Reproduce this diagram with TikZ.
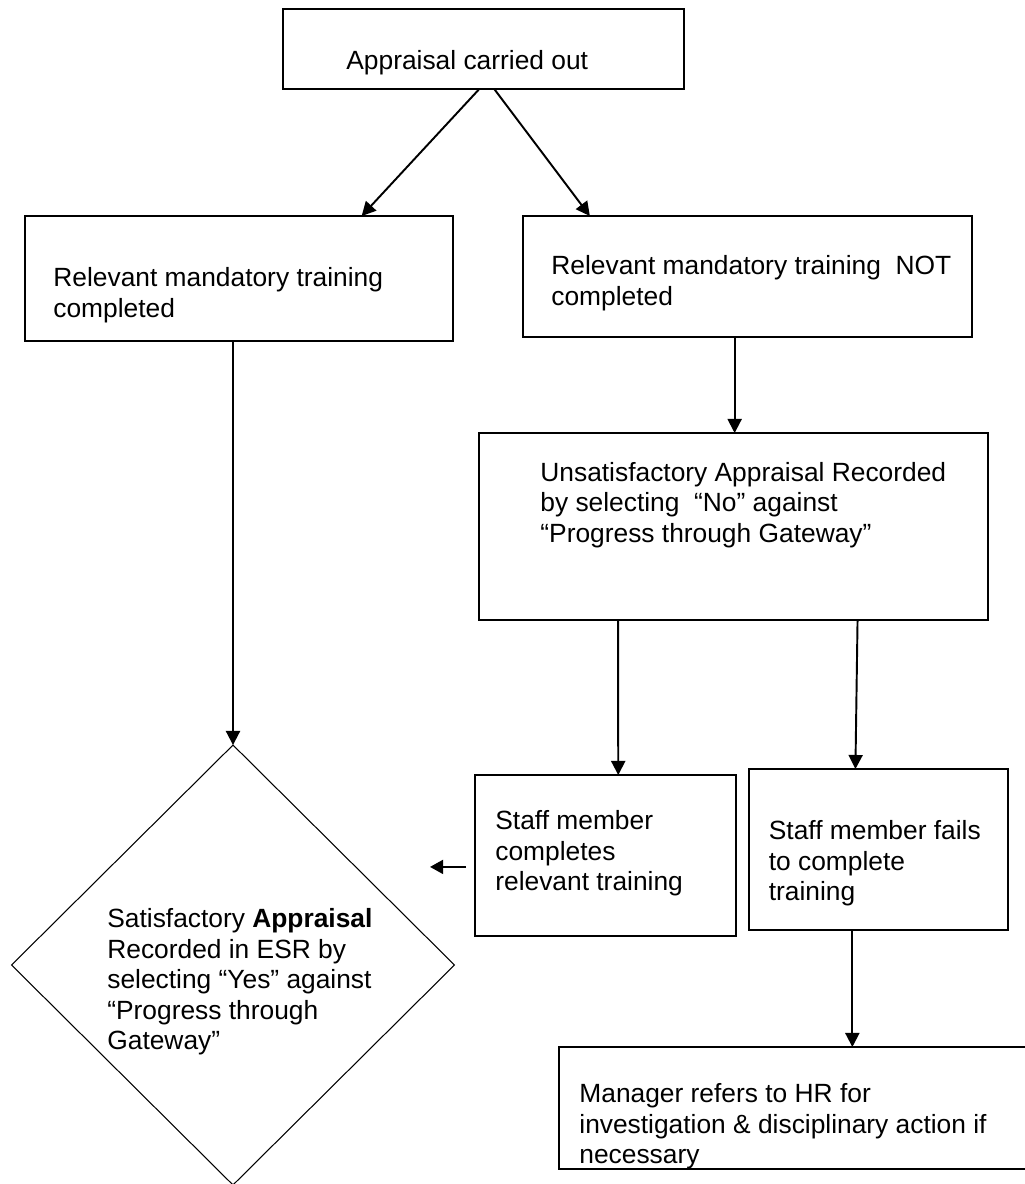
\documentclass[tikz,border=0pt]{standalone}
\usepackage{fontspec}
\setmainfont{Liberation Sans}
\usetikzlibrary{shapes.geometric,arrows.meta}

\begin{document}
\begin{tikzpicture}[x=0.02cm,y=-0.02cm,
  box/.style={draw,line width=0.8pt,inner sep=0pt,outer sep=0pt,rectangle},
  txt/.style={anchor=north west,inner sep=0pt,align=left,font=\fontsize{15}{17.3}\selectfont},
  arr/.style={line width=1.1pt,-{Triangle[length=8pt,width=8pt]}},
  arrs/.style={line width=1.2pt,-{Triangle[length=7.5pt,width=8pt]}}]
\useasboundingbox (0,0) rectangle (1025,1184);
\clip (0,0) rectangle (1025,1184);

\draw (483.5,49) node[box,minimum width=8.02cm,minimum height=1.6cm] (appr) {};
\draw ([shift={(63,41.5)}]appr.north west) node[txt] (appr-t) {Appraisal carried out};

\draw (239,278.5) node[box,minimum width=8.56cm,minimum height=2.5cm] (done) {};
\draw ([shift={(28,51.5)}]done.north west) node[txt] (done-t) {Relevant mandatory training\\completed};

\draw (747.5,276.5) node[box,minimum width=8.98cm,minimum height=2.42cm] (notdone) {};
\draw ([shift={(28,39.5)}]notdone.north west) node[txt] (notdone-t) {Relevant mandatory training~ NOT\\completed};

\draw (733.5,526.5) node[box,minimum width=10.18cm,minimum height=3.74cm] (unsat) {};
\draw ([shift={(61,29)}]unsat.north west) node[txt] (unsat-t) {Unsatisfactory Appraisal Recorded\\by selecting~ “No” against\\“Progress through Gateway”};

\draw (605.5,855.5) node[box,minimum width=5.22cm,minimum height=3.22cm] (completes) {};
\draw ([shift={(20,35.5)}]completes.north west) node[txt] (completes-t) {Staff member\\completes\\relevant training};

\draw (878.5,849.5) node[box,minimum width=5.18cm,minimum height=3.22cm] (fails) {};
\draw ([shift={(19.5,51.5)}]fails.north west) node[txt] (fails-t) {Staff member fails\\to complete\\training};

\draw (797,1108) node[box,minimum width=9.52cm,minimum height=2.44cm] (hr) {};
\draw ([shift={(20,36.5)}]hr.north west) node[txt] (hr-t) {Manager refers to HR for\\investigation \& disciplinary action if\\necessary};

\draw (233,965) node[diamond,draw,line width=0.6pt,inner sep=0pt,outer sep=0pt,minimum width=8.86cm,minimum height=8.8cm] (sat) {};
\draw ([shift={(-126,-56.5)}]sat.center) node[txt] (sat-t) {Satisfactory \textbf{Appraisal}\\Recorded in ESR by\\selecting “Yes” against\\“Progress through\\Gateway”};

% connectors
\draw[arr] (appr.264) -- (done.27);
\draw[arr] (appr.285) -- (notdone.159);
\draw[arr] (done.south -| sat.north) -- (sat.north);
\draw[arr] (notdone.258) -- (notdone.258 |- unsat.north);
\draw[arr] (unsat.219) -- (completes.81);
\draw[arr] (unsat.323) -- (fails.106);
\draw[arr] (fails.252) -- (fails.252 |- hr.north);
\coordinate (back) at ([shift={(-45,0)}]completes.185);
\draw[arrs] ([shift={(-9,0)}]completes.185) -- (back);

\end{tikzpicture}
\end{document}
